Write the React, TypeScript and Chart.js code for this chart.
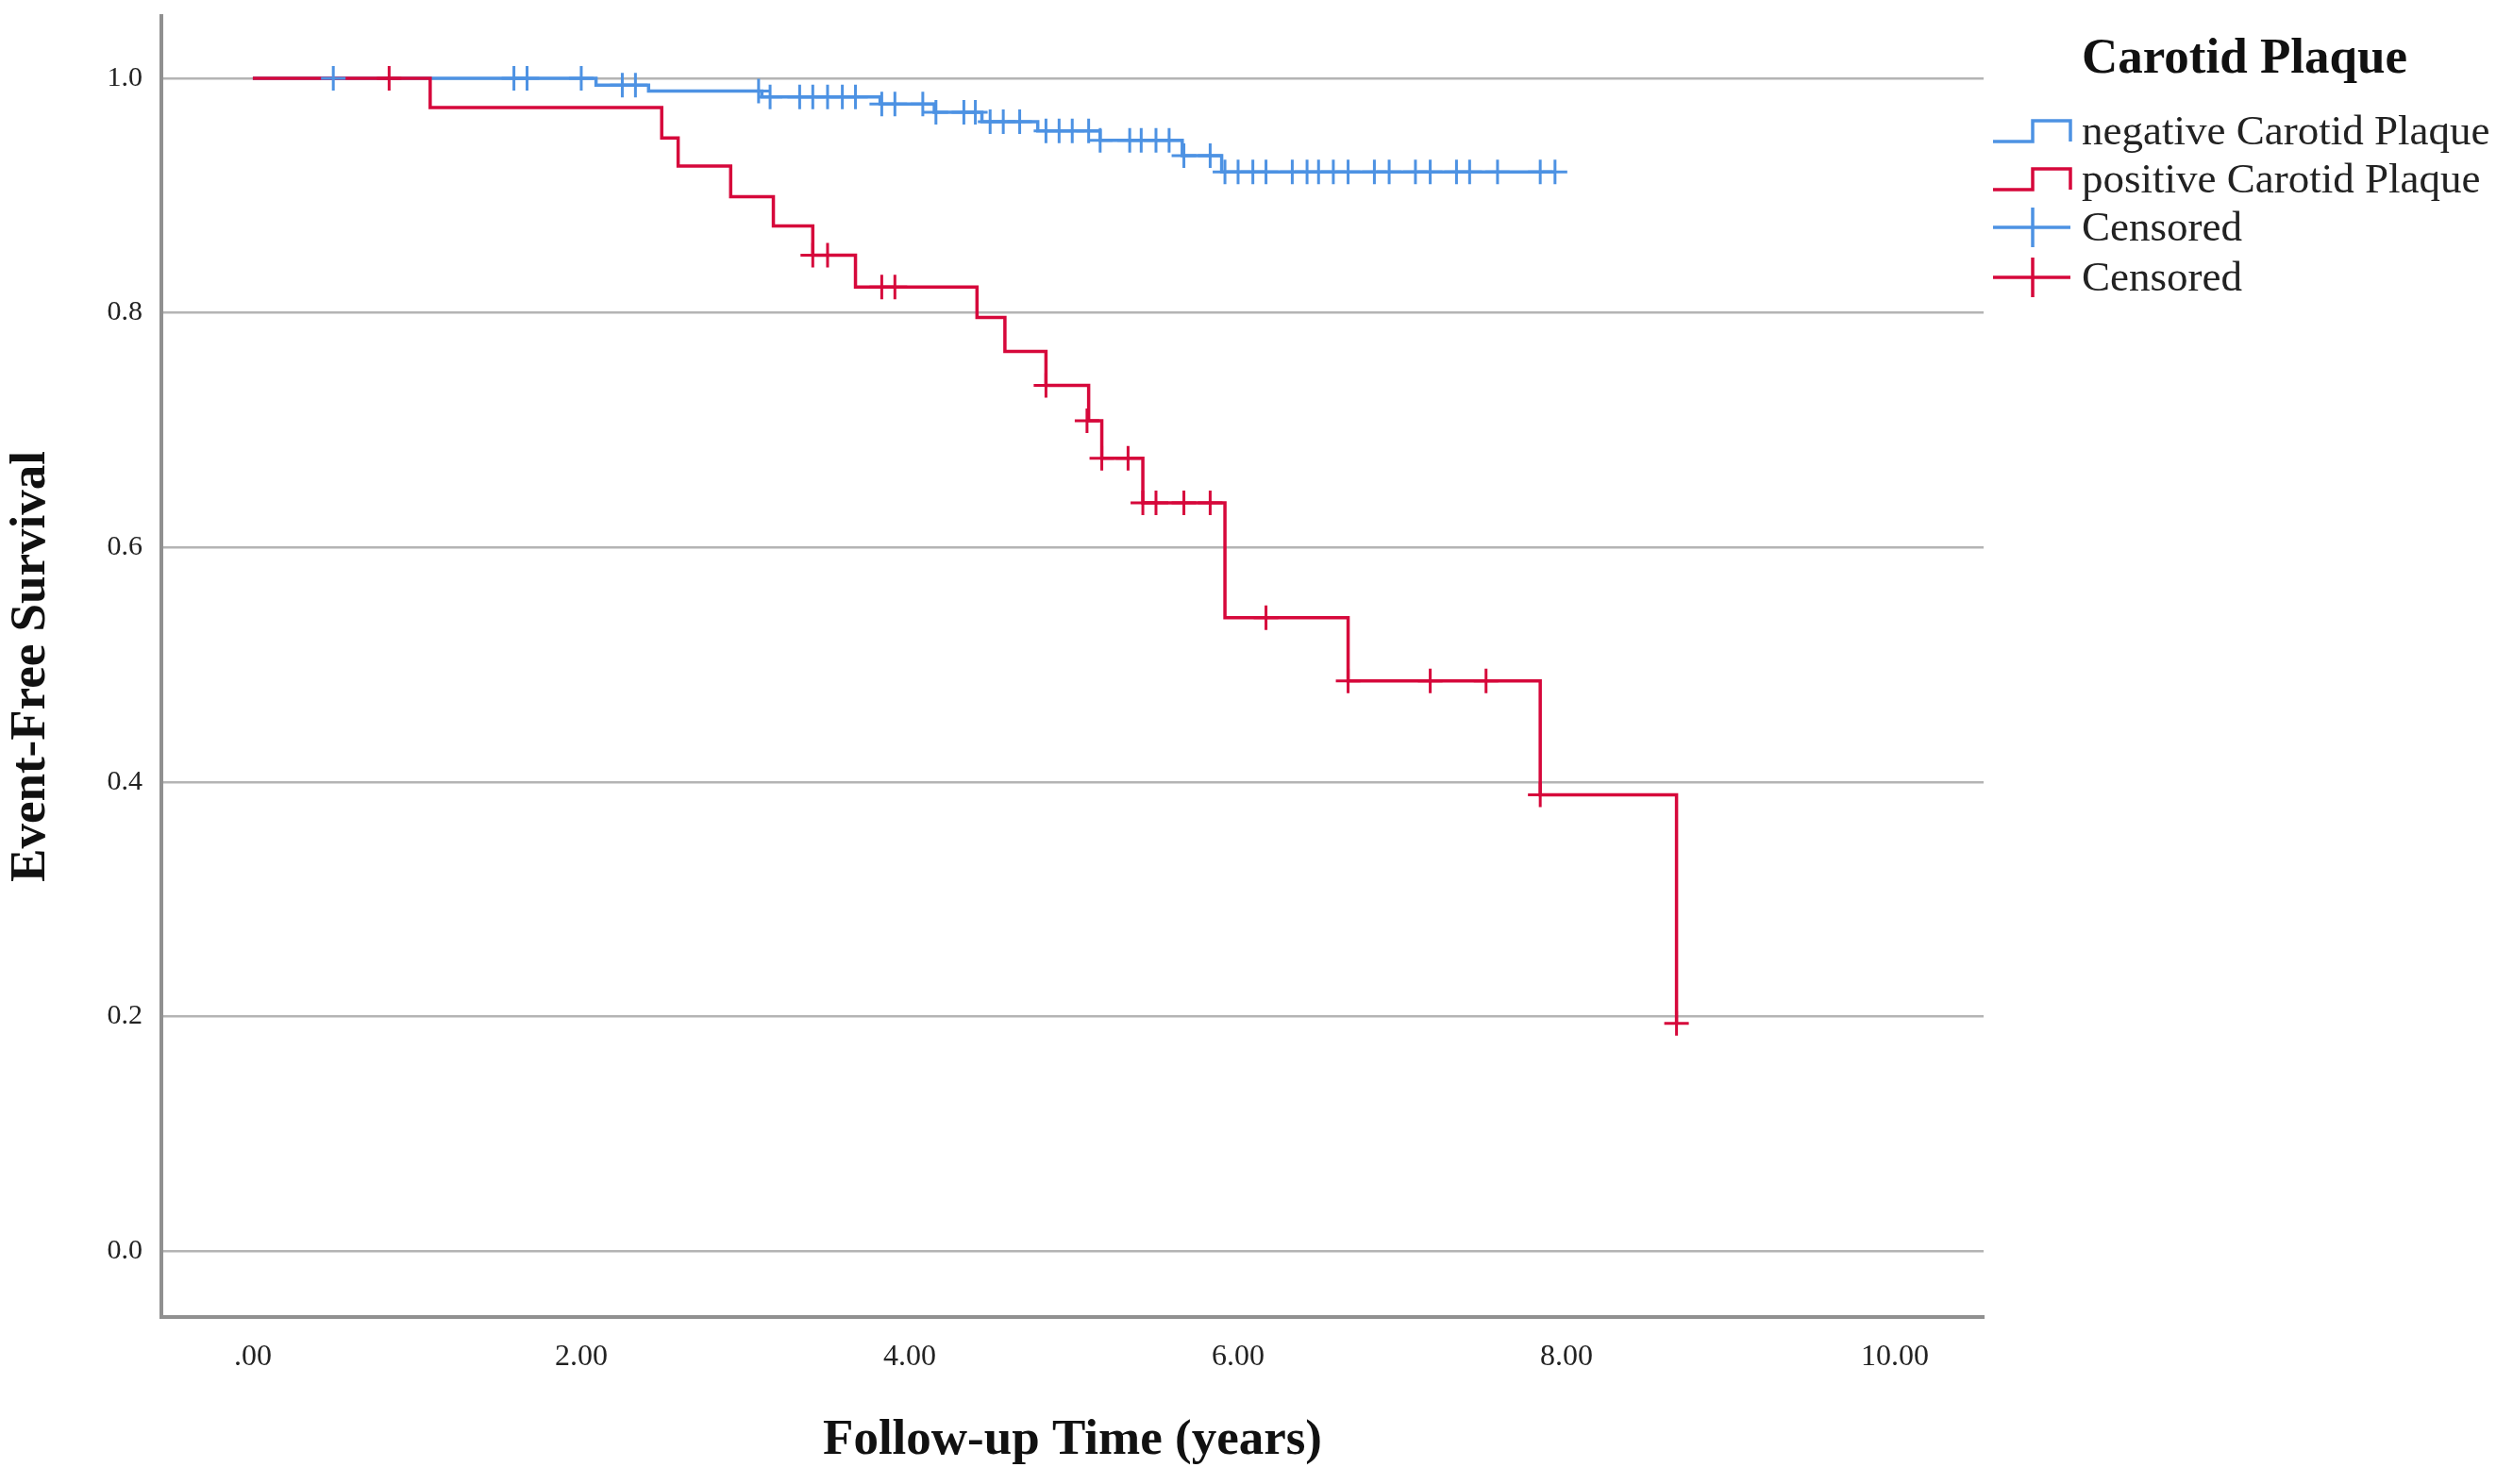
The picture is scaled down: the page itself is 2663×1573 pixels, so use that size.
import { useEffect, useRef } from "react"
import { Chart, registerables } from "chart.js"

Chart.register(...registerables)

// Kaplan-Meier steps: time (years) at which survival drops to the value
const negTimes = [0, 2.09, 2.41, 3.1, 3.82, 4.15, 4.44, 4.78, 5.16, 5.66, 5.9, 7.93]
const negSurv = [1.0, 0.994, 0.989, 0.984, 0.978, 0.971, 0.963, 0.955, 0.947, 0.934, 0.92, 0.92]

const posTimes = [0, 1.08, 2.49, 2.59, 2.91, 3.17, 3.41, 3.67, 4.41, 4.58, 4.83, 5.09, 5.17, 5.42, 5.92, 6.67, 7.84, 8.67]
const posSurv = [1.0, 0.975, 0.949, 0.925, 0.899, 0.874, 0.849, 0.822, 0.796, 0.767, 0.738, 0.708, 0.676, 0.638, 0.54, 0.486, 0.389, 0.194]

// censored observations
const negCensorTimes = [
  0.49, 1.59, 1.67, 2.0, 2.25, 2.33, 3.08, 3.15, 3.33, 3.41, 3.5, 3.59, 3.67, 3.83, 3.91, 4.08, 4.16, 4.33, 4.4,
  4.49, 4.57, 4.67, 4.83, 4.91, 4.99, 5.09, 5.16, 5.34, 5.41, 5.5, 5.58, 5.67, 5.83, 5.92, 6.0, 6.09, 6.17, 6.33,
  6.42, 6.49, 6.58, 6.67, 6.83, 6.92, 7.08, 7.17, 7.33, 7.41, 7.58, 7.84, 7.93,
]
const negCensorSurv = [
  1.0, 1.0, 1.0, 1.0, 0.994, 0.994, 0.989, 0.984, 0.984, 0.984, 0.984, 0.984, 0.984, 0.978, 0.978, 0.978, 0.971,
  0.971, 0.971, 0.963, 0.963, 0.963, 0.955, 0.955, 0.955, 0.955, 0.947, 0.947, 0.947, 0.947, 0.947, 0.934, 0.934,
  0.92, 0.92, 0.92, 0.92, 0.92, 0.92, 0.92, 0.92, 0.92, 0.92, 0.92, 0.92, 0.92, 0.92, 0.92, 0.92, 0.92, 0.92,
]

const posCensorTimes = [0.83, 3.41, 3.5, 3.83, 3.91, 4.83, 5.08, 5.17, 5.33, 5.42, 5.5, 5.67, 5.83, 6.17, 6.67, 7.17, 7.51, 7.84, 8.67]
const posCensorSurv = [
  1.0, 0.849, 0.849, 0.822, 0.822, 0.738, 0.708, 0.676, 0.676, 0.638, 0.638, 0.638, 0.638, 0.54, 0.486, 0.486,
  0.486, 0.389, 0.194,
]

const xTicks = [0, 2, 4, 6, 8, 10]
const yTicks = [0, 0.2, 0.4, 0.6, 0.8, 1.0]

const legendTitle = "Carotid Plaque"
const legendLabels = ["negative Carotid Plaque", "positive Carotid Plaque", "Censored", "Censored"]

const BLUE = "#4d92e3"
const RED = "#d6083b"
const SERIF = "'Liberation Serif', 'Times New Roman', serif"

const toPoints = (xs: number[], ys: number[]) => xs.map((x, i) => ({ x, y: ys[i] }))

const legendPlugin = {
  id: "kmLegend",
  afterDraw(chart: Chart) {
    const ctx = chart.ctx
    const area = chart.chartArea
    const iconL = area.right + 10
    const iconM = area.right + 52
    const iconR = area.right + 92
    const textX = area.right + 104
    ctx.save()
    ctx.fillStyle = "#111"
    ctx.textAlign = "left"
    ctx.textBaseline = "middle"
    ctx.font = `bold 53px ${SERIF}`
    ctx.fillText(legendTitle, textX, 63)

    ctx.font = `45px ${SERIF}`
    ctx.fillStyle = "#222"
    const rows = [139, 190, 241, 294]
    const colors = [BLUE, RED, BLUE, RED]
    rows.forEach((y, i) => {
      ctx.strokeStyle = colors[i]
      ctx.lineWidth = 3.5
      ctx.beginPath()
      if (i < 2) {
        ctx.moveTo(iconL, y + 11)
        ctx.lineTo(iconM, y + 11)
        ctx.lineTo(iconM, y - 11)
        ctx.lineTo(iconR, y - 11)
        ctx.lineTo(iconR, y + 11)
      } else {
        ctx.moveTo(iconL, y)
        ctx.lineTo(iconR, y)
        ctx.moveTo(iconM, y - 21)
        ctx.lineTo(iconM, y + 21)
      }
      ctx.stroke()
      ctx.fillText(legendLabels[i], textX, y + 2)
    })
    ctx.restore()
  },
}

export default function App() {
  const chartRef = useRef<HTMLCanvasElement>(null)
  const chartInstance = useRef<Chart | null>(null)

  useEffect(() => {
    if (!chartRef.current) return
    if (chartInstance.current) chartInstance.current.destroy()
    const ctx = chartRef.current.getContext("2d")
    if (!ctx) return

    chartInstance.current = new Chart(ctx, {
      type: "scatter",
      data: {
        datasets: [
          {
            label: "Censored positive",
            data: toPoints(posCensorTimes, posCensorSurv),
            showLine: false,
            pointStyle: "cross",
            pointRadius: 13,
            borderColor: RED,
            borderWidth: 3,
          },
          {
            label: "Censored negative",
            data: toPoints(negCensorTimes, negCensorSurv),
            showLine: false,
            pointStyle: "cross",
            pointRadius: 13,
            borderColor: BLUE,
            borderWidth: 3,
          },
          {
            label: "positive Carotid Plaque",
            data: toPoints(posTimes, posSurv),
            showLine: true,
            stepped: true,
            pointRadius: 0,
            borderColor: RED,
            borderWidth: 3.5,
            fill: false,
          },
          {
            label: "negative Carotid Plaque",
            data: toPoints(negTimes, negSurv),
            showLine: true,
            stepped: true,
            pointRadius: 0,
            borderColor: BLUE,
            borderWidth: 3.5,
            fill: false,
          },
        ],
      },
      options: {
        responsive: true,
        maintainAspectRatio: false,
        animation: false,
        layout: { padding: { top: 17, right: 561, left: 0, bottom: 0 } },
        scales: {
          x: {
            type: "linear",
            min: -0.557,
            max: 10.54,
            afterBuildTicks: (scale) => {
              scale.ticks = xTicks.map((value) => ({ value }))
            },
            afterFit: (scale) => {
              scale.height = 177
              scale.paddingLeft = 0
              scale.paddingRight = 0
            },
            grid: { display: false, drawTicks: false },
            border: { display: true, color: "#909090", width: 4 },
            ticks: {
              padding: 23,
              color: "#222",
              font: { family: SERIF, size: 32 },
              callback: (v) => (Number(v) === 0 ? ".00" : Number(v).toFixed(2)),
            },
            title: {
              display: true,
              text: "Follow-up Time (years)",
              color: "#111",
              font: { family: SERIF, size: 53, weight: "bold" },
              padding: { top: 0, bottom: 14 },
            },
          },
          y: {
            type: "linear",
            min: -0.0563,
            max: 1.053,
            afterBuildTicks: (scale) => {
              scale.ticks = yTicks.map((value) => ({ value }))
            },
            afterFit: (scale) => {
              scale.width = 171
              scale.paddingTop = 0
              scale.paddingBottom = 0
            },
            grid: { color: "#b4b4b4", lineWidth: 2.5, drawTicks: false },
            border: { display: true, color: "#909090", width: 4 },
            ticks: {
              padding: 20,
              color: "#222",
              font: { family: SERIF, size: 30 },
              callback: (v) => Number(v).toFixed(1),
            },
            title: {
              display: true,
              text: "Event-Free Survival",
              color: "#111",
              font: { family: SERIF, size: 53, weight: "bold" },
              padding: { top: 2, bottom: 0 },
            },
          },
        },
        plugins: {
          legend: { display: false },
          tooltip: { enabled: false },
        },
      },
      plugins: [legendPlugin],
    })

    return () => {
      if (chartInstance.current) {
        chartInstance.current.destroy()
        chartInstance.current = null
      }
    }
  }, [])

  return (
    <div style={{ position: "fixed", left: 0, top: 0, width: 2663, height: 1573, background: "#fff" }}>
      <canvas ref={chartRef} />
    </div>
  )
}
